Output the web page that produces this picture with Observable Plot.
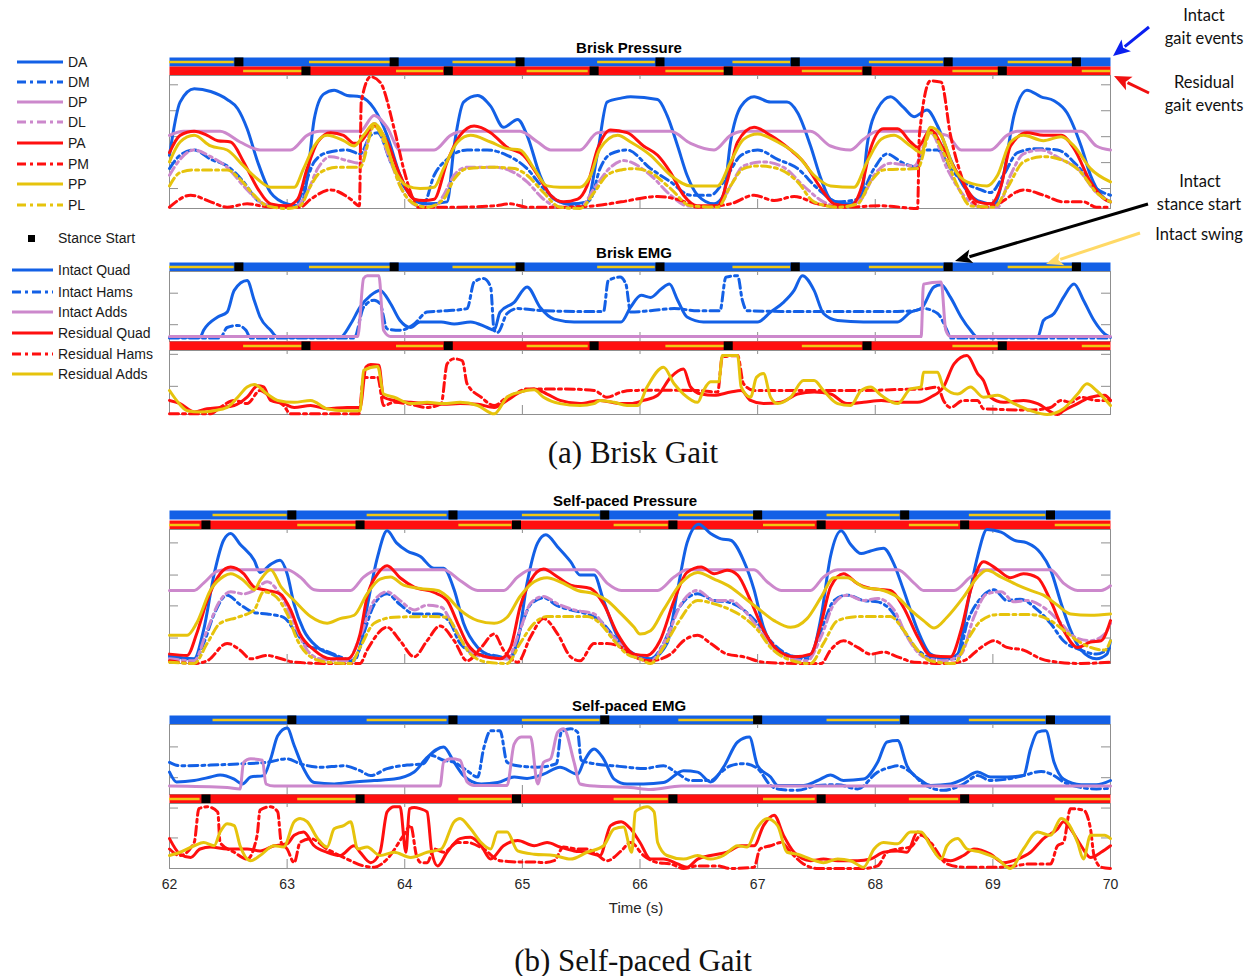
<!DOCTYPE html>
<html><head><meta charset="utf-8">
<script src="https://cdn.jsdelivr.net/npm/d3@7"></script>
<script src="https://cdn.jsdelivr.net/npm/@observablehq/plot@0.6"></script>
<style>
body{margin:0;background:#fff;}
#fig{position:relative;width:1257px;height:976px;overflow:hidden;font-family:"Liberation Sans",Arial,sans-serif;color:#111;}
</style></head><body><div id="fig"></div>
<script>
// ---------------- DATA ----------------
const xTicks = [62,63,64,65,66,67,68,69,70];
const pressureNames = ["DA","DM","DP","DL","PA","PM","PP","PL"];
const intactEmgNames = ["Intact Quad","Intact Hams","Intact Adds"];
const residualEmgNames = ["Residual Quad","Residual Hams","Residual Adds"];

// gait events (s)
const briskIntactStance = [62.59,63.91,64.98,66.17,67.32,68.62,69.71];
const briskIntactSwing = [[62.0,62.55],[63.19,63.88],[64.41,64.95],[65.64,66.13],[66.79,67.28],[67.95,68.58],[69.13,69.68]];
const briskResidualStance = [63.16,64.37,65.61,66.75,67.93,69.08];
const briskResidualSwing = [[62.63,63.13],[63.93,64.33],[65.04,65.56],[66.22,66.73],[67.38,67.89],[68.66,69.05],[69.76,70.0]];
const selfIntactStance = [63.04,64.41,65.70,67.00,68.25,69.49];
const selfIntactSwing = [[62.37,63.00],[63.68,64.36],[65.00,65.66],[66.33,66.97],[67.59,68.21],[68.80,69.45]];
const selfResidualStance = [62.31,63.62,64.95,66.28,67.54,68.76];
const selfResidualSwing = [[62.0,62.26],[63.09,63.59],[64.46,64.91],[65.78,66.24],[67.05,67.49],[68.29,68.71],[69.53,70.0]];

// Brisk pressure (normalised)
const bpDA = [[62.00,.40],[62.09,.80],[62.21,.90],[62.35,.88],[62.49,.82],[62.58,.75],[62.66,.60],[62.75,.35],[62.86,.12],[63.00,.035],[63.11,.02],[63.17,.22],[63.23,.67],[63.31,.86],[63.40,.89],[63.51,.85],[63.62,.84],[63.74,.75],[63.85,.55],[63.96,.25],[64.08,.07],[64.19,.035],[64.36,.05],[64.42,.47],[64.50,.80],[64.62,.85],[64.73,.77],[64.84,.61],[64.96,.67],[65.04,.55],[65.15,.25],[65.27,.07],[65.41,.035],[65.55,.05],[65.64,.42],[65.72,.80],[65.84,.83],[65.92,.84],[66.15,.82],[66.23,.70],[66.32,.47],[66.40,.25],[66.49,.10],[66.63,.035],[66.71,.10],[66.77,.50],[66.86,.77],[66.97,.84],[67.11,.80],[67.25,.80],[67.34,.72],[67.45,.47],[67.54,.22],[67.62,.07],[67.76,.035],[67.88,.07],[67.93,.47],[68.02,.75],[68.13,.84],[68.24,.76],[68.33,.69],[68.44,.74],[68.53,.62],[68.64,.37],[68.75,.17],[68.87,.06],[69.01,.035],[69.09,.25],[69.18,.70],[69.29,.89],[69.41,.84],[69.52,.81],[69.63,.72],[69.75,.47],[69.83,.25],[69.92,.10],[70.00,.05]];
const bpDM = [[62.00,.30],[62.09,.40],[62.21,.44],[62.35,.37],[62.49,.32],[62.63,.20],[62.75,.06],[62.86,.02],[63.06,.01],[63.14,.15],[63.23,.35],[63.34,.42],[63.51,.44],[63.62,.41],[63.71,.55],[63.77,.57],[63.88,.35],[63.99,.17],[64.11,.05],[64.16,.035],[64.25,.25],[64.36,.37],[64.53,.44],[64.70,.44],[64.87,.40],[65.04,.30],[65.18,.15],[65.32,.05],[65.49,.02],[65.58,.07],[65.66,.30],[65.75,.41],[65.89,.44],[66.09,.30],[66.26,.20],[66.43,.10],[66.60,.10],[66.71,.20],[66.86,.40],[67.00,.44],[67.17,.37],[67.34,.30],[67.51,.15],[67.68,.05],[67.85,.07],[67.99,.30],[68.10,.41],[68.24,.34],[68.36,.31],[68.41,.44],[68.53,.44],[68.64,.30],[68.75,.20],[68.87,.15],[68.98,.12],[69.09,.25],[69.21,.42],[69.38,.45],[69.55,.44],[69.72,.32],[69.88,.15],[70.00,.10]];
const bpDP = [[62.00,.55],[62.12,.58],[62.43,.58],[62.60,.50],[62.77,.44],[63.03,.44],[63.17,.55],[63.28,.58],[63.62,.58],[63.74,.70],[63.85,.61],[63.96,.44],[64.25,.44],[64.39,.55],[64.50,.58],[64.98,.58],[65.13,.50],[65.24,.44],[65.49,.44],[65.64,.57],[65.89,.58],[66.26,.58],[66.43,.49],[66.63,.44],[66.77,.55],[66.88,.58],[67.45,.58],[67.62,.47],[67.79,.44],[67.90,.52],[68.02,.58],[68.36,.58],[68.61,.55],[68.73,.44],[68.98,.44],[69.12,.55],[69.21,.58],[69.75,.58],[69.88,.47],[70.00,.44]];
const bpDL = [[62.00,.25],[62.09,.37],[62.21,.44],[62.35,.39],[62.49,.31],[62.63,.17],[62.77,.05],[62.92,.01],[63.06,.01],[63.17,.12],[63.26,.30],[63.37,.39],[63.51,.36],[63.62,.34],[63.74,.64],[63.88,.35],[63.99,.12],[64.11,.02],[64.25,.01],[64.33,.10],[64.42,.25],[64.53,.31],[64.76,.31],[64.93,.27],[65.04,.20],[65.18,.07],[65.32,.01],[65.49,.01],[65.61,.15],[65.75,.31],[65.86,.36],[66.09,.25],[66.26,.10],[66.40,.02],[66.66,.01],[66.77,.17],[66.88,.32],[67.05,.35],[67.22,.31],[67.39,.17],[67.56,.05],[67.73,.01],[67.88,.07],[67.99,.25],[68.13,.34],[68.33,.32],[68.47,.57],[68.61,.30],[68.75,.10],[68.90,.01],[69.04,.01],[69.15,.25],[69.26,.41],[69.41,.44],[69.58,.37],[69.72,.30],[69.88,.12],[70.00,.05]];
const bpPA = [[62.00,.42],[62.09,.55],[62.21,.58],[62.32,.55],[62.41,.51],[62.52,.50],[62.63,.35],[62.75,.15],[62.86,.035],[63.00,.02],[63.09,.07],[63.17,.30],[63.26,.50],[63.37,.57],[63.48,.55],[63.57,.49],[63.62,.50],[63.74,.62],[63.85,.50],[63.96,.25],[64.08,.07],[64.16,.06],[64.25,.07],[64.36,.35],[64.47,.55],[64.59,.62],[64.73,.57],[64.87,.46],[65.01,.40],[65.13,.25],[65.24,.10],[65.35,.05],[65.47,.07],[65.55,.17],[65.64,.45],[65.75,.59],[65.89,.57],[66.03,.47],[66.15,.40],[66.26,.27],[66.37,.10],[66.49,.02],[66.66,.02],[66.74,.20],[66.83,.50],[66.97,.61],[67.11,.55],[67.28,.44],[67.39,.35],[67.54,.15],[67.65,.035],[67.79,.02],[67.88,.15],[67.96,.45],[68.07,.60],[68.19,.60],[68.30,.50],[68.36,.46],[68.47,.59],[68.58,.45],[68.73,.22],[68.87,.05],[68.98,.035],[69.07,.17],[69.15,.47],[69.29,.57],[69.43,.55],[69.58,.55],[69.69,.45],[69.83,.20],[69.95,.07],[70.00,.05]];
const bpPM = [[62.00,.01],[62.18,.10],[62.35,.05],[62.49,.01],[62.66,.035],[62.86,.01],[63.11,.01],[63.20,.07],[63.37,.14],[63.54,.07],[63.615,.02],[63.63,.80],[63.71,.99],[63.79,.95],[63.91,.60],[63.99,.30],[64.05,.12],[64.11,.01],[64.47,.01],[64.76,.02],[64.90,.035],[65.04,.01],[65.32,.01],[65.61,.02],[65.84,.05],[66.15,.09],[66.35,.06],[66.49,.01],[66.77,.035],[66.97,.10],[67.14,.06],[67.31,.09],[67.51,.035],[67.73,.01],[68.05,.02],[68.36,0],[68.375,.55],[68.47,.96],[68.56,.95],[68.64,.55],[68.73,.25],[68.81,.07],[68.92,.01],[69.04,.035],[69.26,.14],[69.43,.10],[69.60,.05],[69.77,.05],[69.88,.01],[70.00,.01]];
const bpPP = [[62.00,.35],[62.09,.50],[62.21,.55],[62.35,.47],[62.49,.44],[62.63,.32],[62.75,.22],[62.86,.16],[63.06,.16],[63.14,.30],[63.23,.47],[63.34,.55],[63.48,.51],[63.57,.47],[63.65,.55],[63.74,.64],[63.82,.55],[63.91,.30],[64.02,.17],[64.13,.15],[64.25,.16],[64.33,.30],[64.45,.50],[64.56,.55],[64.73,.50],[64.87,.45],[64.98,.44],[65.10,.30],[65.21,.17],[65.32,.16],[65.49,.16],[65.58,.25],[65.66,.45],[65.81,.55],[65.92,.50],[66.09,.40],[66.26,.25],[66.43,.17],[66.66,.17],[66.77,.35],[66.88,.52],[67.00,.56],[67.17,.50],[67.34,.40],[67.48,.25],[67.62,.17],[67.82,.16],[67.93,.35],[68.05,.52],[68.16,.55],[68.30,.47],[68.39,.42],[68.47,.61],[68.56,.55],[68.67,.30],[68.78,.20],[68.95,.17],[69.04,.25],[69.15,.50],[69.26,.55],[69.43,.51],[69.58,.54],[69.69,.47],[69.83,.30],[70.00,.20]];
const bpPL = [[62.00,.17],[62.09,.27],[62.21,.29],[62.49,.29],[62.60,.22],[62.72,.10],[62.83,.02],[63.00,0],[63.11,.02],[63.20,.17],[63.28,.27],[63.43,.31],[63.62,.31],[63.74,.62],[63.85,.45],[63.96,.17],[64.08,.035],[64.19,.01],[64.33,.07],[64.42,.22],[64.53,.30],[64.76,.31],[64.93,.30],[65.04,.25],[65.18,.12],[65.32,.01],[65.49,0],[65.61,.12],[65.72,.25],[65.84,.29],[65.95,.30],[66.09,.27],[66.26,.15],[66.43,.02],[66.66,.01],[66.77,.17],[66.88,.30],[67.00,.32],[67.17,.30],[67.34,.20],[67.48,.05],[67.68,.01],[67.85,.035],[67.96,.20],[68.07,.29],[68.36,.30],[68.47,.57],[68.58,.42],[68.70,.17],[68.81,.02],[69.01,.01],[69.12,.15],[69.26,.35],[69.43,.39],[69.60,.36],[69.75,.27],[69.88,.12],[70.00,.05]];

// Brisk EMG (normalised)
const beIQ = [[62.00,.06],[62.26,.06],[62.29,.16],[62.41,.35],[62.49,.42],[62.55,.73],[62.66,.87],[62.72,.59],[62.77,.35],[62.86,.16],[62.92,.06],[63.45,.06],[63.54,.25],[63.62,.49],[63.71,.66],[63.79,.73],[63.88,.54],[63.96,.30],[64.05,.20],[64.13,.28],[64.31,.28],[64.42,.25],[64.56,.28],[64.70,.20],[64.76,.16],[64.81,.42],[64.93,.56],[65.04,.78],[65.15,.49],[65.27,.32],[65.44,.28],[65.61,.28],[65.84,.28],[65.92,.49],[66.01,.66],[66.09,.63],[66.18,.75],[66.25,.82],[66.32,.59],[66.40,.35],[66.54,.28],[66.77,.28],[67.00,.28],[67.11,.42],[67.22,.56],[67.31,.73],[67.38,.94],[67.48,.73],[67.56,.40],[67.68,.30],[67.90,.28],[68.19,.28],[68.30,.42],[68.39,.47],[68.50,.78],[68.56,.81],[68.64,.63],[68.73,.35],[68.81,.16],[68.87,.06],[69.38,.06],[69.43,.30],[69.52,.40],[69.60,.63],[69.69,.82],[69.77,.59],[69.86,.30],[69.95,.11],[70.00,.06]];
const beIH = [[62.00,.05],[62.43,.05],[62.49,.20],[62.58,.23],[62.65,.16],[62.69,.05],[63.57,.05],[63.65,.49],[63.74,.59],[63.79,.54],[63.85,.18],[63.96,.16],[64.08,.25],[64.19,.42],[64.36,.44],[64.53,.47],[64.59,.85],[64.67,.90],[64.73,.78],[64.76,.16],[64.79,.13],[64.87,.40],[64.96,.47],[65.18,.44],[65.47,.43],[65.69,.43],[65.73,.87],[65.83,.92],[65.88,.82],[65.92,.42],[66.09,.44],[66.29,.47],[66.49,.44],[66.68,.44],[66.73,.92],[66.83,.94],[66.87,.59],[66.91,.44],[67.20,.43],[67.62,.43],[67.90,.43],[68.19,.43],[68.33,.44],[68.41,.47],[68.53,.40],[68.61,.16],[68.64,.05],[69.32,.05],[70.00,.05]];
const beIA = [[62.00,.07],[63.60,.07],[63.65,.90],[63.68,.94],[63.78,.94],[63.82,.16],[63.88,.07],[68.39,.07],[68.41,.82],[68.56,.85],[68.60,.16],[68.64,.07],[70.00,.07]];
const beRQ = [[62.00,.22],[62.09,.17],[62.21,.04],[62.32,.09],[62.43,.11],[62.55,.14],[62.66,.27],[62.75,.45],[62.80,.43],[62.86,.22],[62.97,.17],[63.06,.11],[63.20,.14],[63.34,.09],[63.51,.11],[63.62,.11],[63.67,.74],[63.71,.78],[63.78,.77],[63.82,.27],[63.91,.22],[64.05,.19],[64.19,.17],[64.33,.16],[64.47,.17],[64.62,.16],[64.76,.11],[64.87,.22],[64.98,.35],[65.10,.40],[65.21,.32],[65.32,.22],[65.49,.17],[65.66,.22],[65.84,.17],[65.92,.17],[66.03,.22],[66.15,.30],[66.26,.58],[66.37,.71],[66.43,.43],[66.52,.32],[66.63,.30],[66.77,.35],[66.86,.375],[66.94,.22],[67.05,.17],[67.20,.19],[67.34,.32],[67.48,.35],[67.62,.32],[67.76,.17],[67.90,.19],[68.05,.22],[68.19,.19],[68.36,.19],[68.47,.27],[68.58,.43],[68.67,.79],[68.78,.92],[68.87,.64],[68.92,.53],[68.98,.27],[69.09,.19],[69.26,.22],[69.38,.17],[69.55,0],[69.60,.06],[69.72,.17],[69.83,.27],[69.95,.30],[70.00,.22]];
const beRH = [[62.00,.01],[62.35,.01],[62.43,.11],[62.55,.22],[62.66,.17],[62.77,.375],[62.86,.27],[62.97,.14],[63.03,.01],[63.61,.01],[63.65,.58],[63.77,.58],[63.82,.14],[63.91,.19],[64.02,.17],[64.19,.11],[64.31,.17],[64.36,.79],[64.42,.87],[64.49,.84],[64.53,.48],[64.65,.27],[64.76,.14],[64.87,.27],[64.93,.32],[65.04,.40],[65.32,.40],[65.61,.375],[65.72,.27],[65.84,.35],[65.92,.375],[66.20,.38],[66.49,.375],[66.66,.35],[66.70,.90],[66.83,.92],[66.88,.48],[66.97,.375],[67.20,.375],[67.48,.375],[67.90,.375],[68.19,.39],[68.41,.40],[68.53,.43],[68.58,.22],[68.64,.11],[68.75,.22],[68.87,.22],[68.92,.09],[69.32,.07],[69.49,.11],[69.58,.22],[69.66,.19],[69.75,.27],[69.88,.22],[70.00,.22]];
const beRA = [[62.00,.375],[62.06,.22],[62.15,.06],[62.26,.04],[62.38,.06],[62.49,.11],[62.58,.27],[62.66,.43],[62.72,.47],[62.83,.32],[62.92,.22],[63.06,.19],[63.20,.22],[63.34,.09],[63.48,.06],[63.62,.06],[63.65,.69],[63.77,.75],[63.82,.32],[63.91,.27],[64.05,.17],[64.19,.19],[64.33,.17],[64.47,.19],[64.62,.14],[64.76,.01],[64.87,.27],[64.98,.35],[65.10,.385],[65.18,.27],[65.32,.17],[65.49,.14],[65.61,.17],[65.66,.22],[65.78,.19],[65.89,.14],[65.98,.14],[66.06,.43],[66.20,.74],[66.29,.48],[66.37,.32],[66.49,.19],[66.54,.375],[66.60,.51],[66.67,.51],[66.70,.92],[66.83,.92],[66.86,.43],[66.94,.27],[66.99,.58],[67.05,.64],[67.11,.27],[67.17,.17],[67.28,.27],[67.39,.53],[67.48,.53],[67.56,.375],[67.68,.17],[67.79,.14],[67.88,.375],[67.96,.43],[68.05,.30],[68.19,.17],[68.30,.40],[68.39,.43],[68.41,.66],[68.53,.66],[68.58,.43],[68.70,.32],[68.81,.43],[68.92,.27],[69.04,.30],[69.18,.17],[69.32,.06],[69.46,0],[69.60,.09],[69.72,.32],[69.80,.48],[69.88,.375],[70.00,.14]];

// Self-paced pressure (normalised)
const spDA = [[62.00,.06],[62.21,.035],[62.29,.25],[62.38,.67],[62.46,.92],[62.52,.97],[62.60,.89],[62.72,.77],[62.77,.68],[62.86,.74],[62.94,.77],[63.00,.67],[63.06,.44],[63.14,.25],[63.26,.12],[63.40,.06],[63.54,.02],[63.62,.12],[63.68,.42],[63.77,.80],[63.85,.99],[63.93,.90],[64.02,.84],[64.13,.80],[64.25,.71],[64.33,.71],[64.42,.55],[64.50,.30],[64.62,.12],[64.76,.05],[64.87,.035],[64.96,.17],[65.04,.60],[65.13,.90],[65.20,.96],[65.30,.87],[65.41,.76],[65.49,.66],[65.61,.66],[65.69,.47],[65.81,.20],[65.95,.07],[66.09,.035],[66.23,.15],[66.32,.55],[66.40,.90],[66.50,1.04],[66.60,.97],[66.69,.93],[66.77,.92],[66.88,.77],[66.97,.55],[67.05,.27],[67.17,.10],[67.34,.05],[67.45,.06],[67.54,.35],[67.62,.80],[67.71,.99],[67.79,.89],[67.88,.82],[67.96,.84],[68.07,.86],[68.16,.74],[68.24,.55],[68.36,.25],[68.47,.07],[68.61,.035],[68.70,.07],[68.78,.42],[68.87,.80],[68.95,1.0],[69.07,.98],[69.18,.92],[69.29,.90],[69.41,.82],[69.49,.70],[69.58,.45],[69.66,.25],[69.75,.10],[69.88,.035],[69.97,.07],[70.00,.17]];
const spDM = [[62.00,.05],[62.21,.02],[62.29,.15],[62.38,.37],[62.49,.51],[62.60,.44],[62.72,.38],[62.83,.37],[62.97,.345],[63.06,.25],[63.17,.135],[63.31,.10],[63.45,.05],[63.57,.02],[63.65,.22],[63.74,.44],[63.85,.52],[63.96,.44],[64.08,.37],[64.28,.37],[64.39,.30],[64.47,.15],[64.62,.07],[64.76,.06],[64.90,.035],[64.98,.25],[65.07,.44],[65.18,.49],[65.30,.43],[65.41,.40],[65.55,.37],[65.66,.32],[65.78,.20],[65.92,.07],[66.09,.035],[66.20,.15],[66.32,.40],[66.49,.52],[66.63,.47],[66.74,.46],[66.88,.40],[67.00,.30],[67.11,.17],[67.25,.07],[67.42,.035],[67.54,.25],[67.65,.47],[67.76,.51],[67.90,.47],[68.02,.46],[68.13,.40],[68.24,.25],[68.36,.10],[68.53,.035],[68.70,.035],[68.78,.30],[68.90,.49],[69.01,.55],[69.12,.47],[69.23,.48],[69.38,.40],[69.49,.30],[69.60,.17],[69.75,.10],[69.88,.07],[70.00,.12]];
const spDP = [[62.00,.545],[62.21,.545],[62.29,.60],[62.41,.69],[62.49,.70],[63.00,.70],[63.11,.645],[63.23,.55],[63.28,.545],[63.54,.545],[63.65,.645],[63.77,.70],[64.33,.70],[64.47,.62],[64.62,.545],[64.84,.545],[64.96,.645],[65.07,.70],[65.61,.70],[65.72,.60],[65.84,.545],[66.15,.545],[66.29,.645],[66.40,.70],[66.97,.70],[67.08,.61],[67.20,.545],[67.45,.545],[67.56,.645],[67.68,.70],[68.19,.70],[68.33,.60],[68.41,.545],[68.67,.545],[68.81,.645],[68.92,.70],[69.49,.70],[69.60,.60],[69.72,.545],[69.92,.545],[70.00,.58]];
const spDL = [[62.00,.035],[62.21,.02],[62.32,.25],[62.43,.47],[62.52,.535],[62.63,.52],[62.72,.545],[62.83,.61],[62.95,.50],[63.06,.30],[63.17,.10],[63.28,.035],[63.51,.02],[63.62,.20],[63.74,.47],[63.85,.535],[63.96,.47],[64.08,.40],[64.19,.435],[64.31,.42],[64.39,.32],[64.50,.15],[64.62,.06],[64.87,.035],[64.98,.25],[65.07,.45],[65.18,.50],[65.30,.445],[65.44,.40],[65.61,.37],[65.72,.25],[65.89,.10],[66.09,.02],[66.23,.20],[66.35,.445],[66.49,.545],[66.63,.47],[66.77,.47],[66.88,.40],[67.00,.27],[67.14,.10],[67.28,.035],[67.42,.02],[67.54,.20],[67.65,.445],[67.76,.51],[67.90,.47],[68.02,.485],[68.16,.40],[68.27,.20],[68.41,.05],[68.58,.02],[68.73,.07],[68.84,.35],[68.95,.52],[69.07,.535],[69.18,.46],[69.29,.47],[69.43,.42],[69.58,.30],[69.69,.20],[69.83,.17],[69.95,.22],[70.00,.30]];
const spPA = [[62.00,.07],[62.15,.06],[62.23,.22],[62.32,.47],[62.43,.67],[62.52,.72],[62.63,.67],[62.72,.57],[62.83,.545],[62.94,.52],[63.03,.40],[63.11,.22],[63.23,.10],[63.37,.035],[63.51,.035],[63.62,.22],[63.68,.50],[63.77,.67],[63.85,.73],[63.96,.64],[64.08,.57],[64.25,.53],[64.36,.47],[64.45,.30],[64.53,.15],[64.65,.06],[64.81,.035],[64.90,.12],[64.98,.42],[65.07,.62],[65.18,.705],[65.30,.645],[65.41,.585],[65.58,.56],[65.69,.445],[65.81,.22],[65.95,.07],[66.06,.06],[66.17,.17],[66.29,.47],[66.40,.68],[66.52,.72],[66.63,.67],[66.74,.695],[66.83,.66],[66.94,.47],[67.05,.25],[67.17,.10],[67.31,.05],[67.45,.07],[67.54,.30],[67.62,.57],[67.73,.67],[67.85,.595],[67.96,.56],[68.13,.545],[68.24,.42],[68.36,.20],[68.47,.06],[68.64,.05],[68.73,.25],[68.81,.545],[68.92,.76],[69.04,.70],[69.15,.64],[69.26,.67],[69.38,.64],[69.49,.47],[69.60,.25],[69.72,.12],[69.83,.16],[69.92,.17],[70.00,.32]];
const spPM = [[62.00,.02],[62.21,0],[62.32,.02],[62.49,.15],[62.60,.10],[62.69,.035],[62.83,.06],[62.95,.035],[63.06,.01],[63.34,0],[63.62,0],[63.68,.10],[63.85,.27],[63.96,.17],[64.08,.05],[64.19,.17],[64.30,.28],[64.42,.17],[64.53,.02],[64.65,.12],[64.76,.22],[64.84,.10],[64.96,.01],[65.07,.20],[65.18,.335],[65.30,.22],[65.41,.05],[65.49,.02],[65.61,.15],[65.72,.15],[65.84,.12],[65.95,.05],[66.09,.02],[66.26,.07],[66.37,.17],[66.49,.21],[66.60,.15],[66.74,.07],[66.88,.05],[67.05,.01],[67.34,0],[67.54,0],[67.62,.10],[67.73,.17],[67.85,.12],[67.96,.07],[68.07,.085],[68.19,.05],[68.33,.01],[68.61,0],[68.75,.02],[68.90,.12],[69.01,.17],[69.12,.12],[69.26,.10],[69.41,.035],[69.55,.01],[69.75,0],[70.00,.01]];
const spPP = [[62.00,.21],[62.15,.21],[62.23,.30],[62.35,.55],[62.46,.65],[62.52,.67],[62.63,.62],[62.72,.55],[62.77,.62],[62.86,.70],[62.95,.57],[63.06,.47],[63.20,.35],[63.34,.30],[63.45,.335],[63.57,.36],[63.68,.52],[63.79,.63],[63.88,.645],[63.99,.585],[64.13,.56],[64.28,.545],[64.36,.50],[64.47,.40],[64.62,.32],[64.76,.30],[64.87,.345],[64.98,.50],[65.10,.61],[65.21,.64],[65.32,.61],[65.47,.545],[65.61,.52],[65.72,.47],[65.84,.37],[65.95,.27],[66.00,.22],[66.09,.245],[66.20,.40],[66.35,.60],[66.49,.68],[66.63,.63],[66.77,.57],[66.88,.495],[66.99,.42],[67.14,.32],[67.28,.27],[67.42,.335],[67.54,.495],[67.65,.64],[67.76,.64],[67.90,.57],[68.07,.545],[68.19,.495],[68.30,.40],[68.41,.32],[68.50,.265],[68.61,.345],[68.75,.495],[68.87,.645],[68.95,.695],[69.07,.645],[69.21,.585],[69.32,.545],[69.43,.51],[69.55,.435],[69.66,.37],[69.83,.36],[70.00,.37]];
const spPL = [[62.00,.01],[62.21,0],[62.32,.15],[62.43,.30],[62.58,.345],[62.72,.40],[62.80,.535],[62.89,.51],[63.00,.37],[63.09,.17],[63.20,.05],[63.34,.01],[63.54,0],[63.62,.12],[63.74,.30],[63.91,.345],[64.19,.35],[64.36,.345],[64.45,.22],[64.56,.07],[64.70,.01],[64.87,0],[64.98,.15],[65.10,.30],[65.21,.35],[65.55,.35],[65.66,.30],[65.78,.17],[65.89,.07],[66.00,.035],[66.09,0],[66.20,.12],[66.32,.30],[66.49,.47],[66.63,.445],[66.77,.40],[66.88,.345],[67.00,.25],[67.11,.12],[67.25,.035],[67.45,0],[67.56,.15],[67.68,.32],[67.85,.35],[68.13,.35],[68.24,.25],[68.36,.10],[68.47,.02],[68.67,0],[68.78,.17],[68.90,.32],[69.04,.365],[69.32,.365],[69.49,.32],[69.60,.25],[69.72,.17],[69.83,.12],[69.95,.10],[70.00,.17]];

// Self-paced EMG (normalised)
const seIQ = [[62.00,.32],[62.06,.18],[62.21,.20],[62.35,.25],[62.43,.28],[62.55,.22],[62.62,.15],[62.69,.25],[62.80,.27],[62.86,.51],[62.92,.84],[63.00,.95],[63.06,.70],[63.14,.37],[63.23,.17],[63.40,.15],[63.57,.18],[63.74,.20],[63.91,.22],[64.08,.32],[64.19,.53],[64.33,.68],[64.42,.46],[64.50,.27],[64.65,.15],[64.79,.17],[64.93,.25],[65.04,.23],[65.18,.29],[65.32,.39],[65.47,.29],[65.52,.46],[65.61,.65],[65.69,.51],[65.78,.22],[65.89,.15],[66.03,.15],[66.20,.17],[66.37,.34],[66.49,.32],[66.60,.18],[66.71,.39],[66.83,.75],[66.93,.82],[67.00,.41],[67.11,.25],[67.17,.13],[67.39,.13],[67.51,.20],[67.62,.28],[67.73,.20],[67.90,.22],[68.02,.46],[68.10,.75],[68.19,.77],[68.27,.41],[68.39,.20],[68.47,.13],[68.64,.15],[68.75,.22],[68.87,.32],[68.98,.25],[69.12,.25],[69.26,.27],[69.32,.65],[69.38,.89],[69.45,.91],[69.52,.46],[69.60,.22],[69.75,.14],[69.88,.14],[70.00,.20]];
const seIH = [[62.00,.46],[62.09,.41],[62.35,.42],[62.63,.44],[62.83,.46],[63.00,.51],[63.11,.44],[63.28,.39],[63.48,.41],[63.62,.34],[63.71,.27],[63.85,.37],[64.02,.42],[64.16,.44],[64.22,.56],[64.33,.49],[64.42,.46],[64.53,.34],[64.62,.25],[64.67,.65],[64.73,.91],[64.81,.91],[64.87,.46],[64.96,.41],[65.13,.39],[65.29,.44],[65.33,.89],[65.41,.94],[65.47,.89],[65.50,.49],[65.61,.44],[65.78,.41],[65.89,.39],[66.03,.37],[66.20,.41],[66.32,.30],[66.43,.20],[66.60,.20],[66.69,.32],[66.77,.41],[66.88,.44],[67.00,.37],[67.11,.13],[67.20,.07],[67.34,.06],[67.51,.13],[67.68,.14],[67.85,.08],[68.02,.32],[68.13,.39],[68.19,.41],[68.30,.32],[68.41,.15],[68.58,.06],[68.75,.15],[68.87,.27],[68.98,.20],[69.12,.22],[69.26,.27],[69.41,.33],[69.52,.27],[69.60,.18],[69.75,.10],[69.88,.08],[70.00,.09]];
const seIA = [[62.00,.12],[62.49,.10],[62.60,.08],[62.63,.46],[62.69,.51],[62.79,.49],[62.82,.15],[62.89,.12],[64.30,.12],[64.33,.46],[64.39,.51],[64.47,.49],[64.53,.18],[64.59,.13],[64.87,.13],[64.93,.72],[64.99,.82],[65.07,.82],[65.13,.15],[65.18,.46],[65.24,.51],[65.30,.89],[65.35,.94],[65.44,.46],[65.49,.15],[65.61,.12],[65.92,.10],[66.09,.07],[66.35,.12],[70.00,.12]];
const seRQ = [[62.00,.46],[62.09,.22],[62.18,.17],[62.26,.30],[62.35,.33],[62.49,.30],[62.66,.30],[62.77,.27],[62.89,.35],[63.00,.38],[63.06,.51],[63.14,.56],[63.23,.35],[63.34,.25],[63.45,.20],[63.57,.35],[63.62,.25],[63.71,.09],[63.79,.25],[63.85,.87],[63.91,.95],[63.96,.95],[64.01,.25],[64.04,.92],[64.08,.94],[64.13,.92],[64.19,.87],[64.23,.25],[64.28,.04],[64.36,.25],[64.47,.46],[64.56,.48],[64.65,.35],[64.73,.145],[64.84,.35],[64.96,.43],[65.10,.35],[65.21,.40],[65.32,.33],[65.44,.27],[65.55,.25],[65.66,.20],[65.75,.66],[65.84,.72],[65.92,.61],[66.00,.40],[66.09,.145],[66.20,.145],[66.32,.07],[66.40,.02],[66.49,.145],[66.60,.20],[66.74,.25],[66.86,.35],[66.97,.35],[67.05,.66],[67.14,.82],[67.22,.51],[67.31,.25],[67.45,.12],[67.56,.145],[67.68,.12],[67.85,.12],[67.96,.145],[68.07,.25],[68.19,.27],[68.27,.25],[68.36,.56],[68.44,.46],[68.53,.20],[68.64,.12],[68.75,.20],[68.84,.30],[68.98,.22],[69.09,.09],[69.21,.145],[69.32,.25],[69.43,.46],[69.55,.61],[69.60,.72],[69.66,.61],[69.75,.35],[69.83,.17],[69.92,.25],[70.00,.35]];
const seRH = [[62.00,.30],[62.09,.20],[62.21,.40],[62.25,.92],[62.32,.95],[62.41,.87],[62.43,.40],[62.55,.25],[62.66,.145],[62.745,.51],[62.77,.90],[62.86,.95],[62.92,.87],[62.95,.40],[63.00,.30],[63.06,.09],[63.11,.40],[63.20,.46],[63.34,.30],[63.51,.145],[63.65,.04],[63.74,.02],[63.85,.145],[63.99,.51],[64.05,.66],[64.10,.20],[64.14,.09],[64.19,.09],[64.25,.30],[64.33,.25],[64.45,.40],[64.53,.40],[64.67,.30],[64.81,.12],[64.98,.10],[65.10,.10],[65.18,.09],[65.27,.12],[65.35,.33],[65.47,.30],[65.55,.30],[65.61,.25],[65.72,.12],[65.84,.27],[65.92,.40],[66.03,.20],[66.15,.09],[66.26,.07],[66.37,0],[66.49,.04],[66.66,.04],[66.77,0],[66.97,.02],[67.02,.30],[67.11,.35],[67.20,.40],[67.28,.25],[67.39,.07],[67.51,0],[67.90,0],[68.02,.04],[68.10,.25],[68.19,.30],[68.30,.33],[68.39,.51],[68.47,.40],[68.61,.07],[68.75,.02],[69.04,.02],[69.18,.04],[69.32,.07],[69.49,.07],[69.55,.35],[69.60,.40],[69.66,.92],[69.77,.90],[69.83,.61],[69.86,.20],[69.92,.02],[70.00,0]];
const seRA = [[62.00,.20],[62.09,.25],[62.21,.35],[62.29,.40],[62.38,.35],[62.43,.56],[62.49,.69],[62.55,.66],[62.60,.35],[62.69,.12],[62.77,.20],[62.89,.35],[62.97,.33],[63.06,.72],[63.11,.77],[63.17,.72],[63.26,.46],[63.34,.33],[63.40,.61],[63.48,.66],[63.54,.72],[63.60,.30],[63.68,.33],[63.79,.20],[63.91,.25],[64.05,.17],[64.19,.25],[64.31,.30],[64.42,.72],[64.47,.77],[64.56,.61],[64.65,.40],[64.73,.30],[64.79,.56],[64.87,.56],[64.96,.27],[65.10,.22],[65.27,.20],[65.41,.145],[65.55,.25],[65.69,.35],[65.78,.61],[65.86,.64],[65.93,.25],[65.96,.87],[66.00,.92],[66.06,.95],[66.12,.87],[66.15,.40],[66.23,.20],[66.37,.145],[66.49,.20],[66.60,.145],[66.71,.20],[66.83,.35],[66.91,.33],[66.99,.61],[67.08,.77],[67.17,.66],[67.25,.25],[67.34,.22],[67.45,.145],[67.56,.09],[67.68,.145],[67.79,.12],[67.90,.02],[67.99,.30],[68.07,.40],[68.19,.38],[68.30,.56],[68.39,.56],[68.47,.35],[68.56,.145],[68.61,.35],[68.70,.46],[68.78,.30],[68.90,.25],[69.04,.145],[69.15,0],[69.26,.30],[69.38,.56],[69.49,.51],[69.58,.77],[69.63,.72],[69.72,.40],[69.77,.145],[69.83,.51],[69.95,.51],[70.00,.46]];

// ---------------- STYLE ----------------
const BLUE = "#1360e6", RED = "#ff0f0f", PINK = "#cc88cc", YELLOW = "#e6c30c";
const SWING = "#f0c814", AXIS = "#8f8f8f", DD = "9,4,3,4";
const STY = {
  "DA":{c:BLUE}, "DM":{c:BLUE,d:DD}, "DP":{c:PINK}, "DL":{c:PINK,d:DD},
  "PA":{c:RED}, "PM":{c:RED,d:DD}, "PP":{c:YELLOW}, "PL":{c:YELLOW,d:DD},
  "Intact Quad":{c:BLUE}, "Intact Hams":{c:BLUE,d:DD}, "Intact Adds":{c:PINK},
  "Residual Quad":{c:RED}, "Residual Hams":{c:RED,d:DD}, "Residual Adds":{c:YELLOW}
};
const PX_PER_S = 941 / 8;

const fig = document.getElementById("fig");
function put(node, left, top) {
  node.style.position = "absolute"; node.style.left = left + "px"; node.style.top = top + "px";
  fig.appendChild(node);
}
function label(str, cx, cy, css) {
  const d = document.createElement("div");
  d.textContent = str;
  Object.assign(d.style, {position:"absolute", left: cx+"px", top: cy+"px", transform:"translate(-50%,-50%)", whiteSpace:"nowrap", lineHeight:"1"}, css || {});
  fig.appendChild(d);
}

function gaitBar(color, swings, stances, top, h) {
  const svg = Plot.plot({
    width: 943, height: h, marginLeft: 1, marginRight: 1, marginTop: 0, marginBottom: 0,
    x: {domain: [62, 70], axis: null}, y: {domain: [0, 1], axis: null},
    style: {background: "transparent", overflow: "visible"},
    marks: [
      Plot.frame({fill: color, stroke: "none"}),
      Plot.ruleY(swings, {y: () => 0.5, x1: d => d[0], x2: d => d[1], stroke: SWING, strokeWidth: 2.5}),
      Plot.dot(stances, {x: d => d, symbol: "square", r: 5.1, fill: "#000", stroke: "none"})
    ]
  });
  put(svg, 168, top);
}

function panel(names, arrays, top, bottom, yTicks) {
  const h = bottom - top;
  const dx = 9 / PX_PER_S, dyB = 9 / h, dyT = 4 / h;
  const marks = [
    Plot.frame({stroke: AXIS}),
    Plot.ruleX(xTicks, {x: d => d, y1: () => 0, y2: () => dyB, stroke: AXIS}),
    Plot.ruleX(xTicks, {x: d => d, y1: () => 1 - dyT, y2: () => 1, stroke: AXIS}),
    Plot.ruleY(yTicks, {y: d => d, x1: () => 62, x2: () => 62 + dx, stroke: AXIS}),
    Plot.ruleY(yTicks, {y: d => d, x1: () => 70 - dx, x2: () => 70, stroke: AXIS})
  ];
  names.forEach((n, i) => {
    const s = STY[n];
    const data = d3.sort(arrays[i], d => d[0]);
    marks.push(Plot.line(data, {x: d => d[0], y: d => d[1], stroke: s.c, strokeWidth: 3,
      strokeDasharray: s.d, strokeLinejoin: "round", curve: "monotone-x"}));
  });
  const svg = Plot.plot({
    width: 943, height: h + 2, marginLeft: 1, marginRight: 1, marginTop: 1, marginBottom: 1,
    x: {domain: [62, 70], axis: null}, y: {domain: [0, 1], axis: null},
    style: {background: "transparent", overflow: "visible"},
    marks
  });
  put(svg, 168, top - 1);
}

// ---------------- BRISK ----------------
gaitBar(BLUE, briskIntactSwing, briskIntactStance, 57, 9);
gaitBar(RED, briskResidualSwing, briskResidualStance, 66, 9);
panel(pressureNames, [bpDA,bpDM,bpDP,bpDL,bpPA,bpPM,bpPP,bpPL], 75, 208, [.15,.345,.54,.735,.93]);

gaitBar(BLUE, briskIntactSwing, briskIntactStance, 262, 9);
panel(intactEmgNames, [beIQ,beIH,beIA], 271, 341, [.24,.69]);
gaitBar(RED, briskResidualSwing, briskResidualStance, 341, 9);
panel(residualEmgNames, [beRQ,beRH,beRA], 350, 414, [.44,.94]);

// ---------------- SELF-PACED ----------------
gaitBar(BLUE, selfIntactSwing, selfIntactStance, 510, 9);
gaitBar(RED, selfResidualSwing, selfResidualStance, 520, 9);
panel(pressureNames, [spDA,spDM,spDP,spDL,spPA,spPM,spPP,spPL], 529, 663, [.19,.43,.66,.90]);

gaitBar(BLUE, selfIntactSwing, selfIntactStance, 715, 9);
panel(intactEmgNames, [seIQ,seIH,seIA], 724, 794, [.24,.68]);
gaitBar(RED, selfResidualSwing, selfResidualStance, 794, 9);
panel(residualEmgNames, [seRQ,seRH,seRA], 803, 868, [.47,.93]);

// x tick labels
const axisSvg = Plot.plot({
  width: 943, height: 22, marginLeft: 1, marginRight: 1, marginTop: 0, marginBottom: 0,
  x: {domain: [62, 70], axis: null}, y: {domain: [0, 1], axis: null},
  style: {background: "transparent", overflow: "visible", fontFamily: "Liberation Sans, Arial, sans-serif"},
  marks: [Plot.text(xTicks, {x: d => d, frameAnchor: "middle", text: d => String(d), fontSize: 14, fill: "#262626"})]
});
put(axisSvg, 168, 873);
label("Time (s)", 636, 907, {fontSize: "15px", color: "#262626"});

// titles
const T = {fontWeight: "bold", fontSize: "15px", color: "#000"};
label("Brisk Pressure", 629, 47, T);
label("Brisk EMG", 634, 252, T);
label("Self-paced Pressure", 625, 500, T);
label("Self-paced EMG", 629, 705, T);

// captions
const CAP = {fontFamily: "'Liberation Serif','Times New Roman',serif", fontSize: "31px", color: "#111"};
label("(a) Brisk Gait", 633, 452, CAP);
label("(b) Self-paced Gait", 633, 960, CAP);

// legends
function legendRow(name, y, x0, x1, tx) {
  const s = STY[name];
  const w = document.createElement("div");
  w.innerHTML = `<svg width="${x1 + 2}" height="12" style="position:absolute;left:0;top:${y - 6}px;overflow:visible"><line x1="${x0}" x2="${x1}" y1="6" y2="6" stroke="${s.c}" stroke-width="3" ${s.d ? `stroke-dasharray="${s.d}"` : ""}/></svg>`;
  fig.appendChild(w.firstChild);
  const t = document.createElement("div");
  t.textContent = name;
  Object.assign(t.style, {position: "absolute", left: tx + "px", top: (y - 8) + "px", fontSize: "14px", lineHeight: "16px", whiteSpace: "nowrap", color: "#1a1a1a"});
  fig.appendChild(t);
}
const pY = [61.5, 81.5, 102, 122, 143, 163.5, 184, 205];
pressureNames.forEach((n, i) => legendRow(n, pY[i], 17, 63, 68));
{
  const sq = document.createElement("div");
  Object.assign(sq.style, {position: "absolute", left: "28px", top: "235px", width: "7px", height: "7px", background: "#000"});
  fig.appendChild(sq);
  const t = document.createElement("div");
  t.textContent = "Stance Start";
  Object.assign(t.style, {position: "absolute", left: "58px", top: "230px", fontSize: "14px", lineHeight: "16px", color: "#1a1a1a"});
  fig.appendChild(t);
}
const eY = [270, 291.5, 312, 333, 354, 374];
intactEmgNames.concat(residualEmgNames).forEach((n, i) => legendRow(n, eY[i], 12, 53, 58));

// right annotations
const AN = {fontFamily: "Lato, 'Open Sans', sans-serif", fontSize: "16.5px", color: "#111"};
label("Intact", 1204, 15, AN);
label("gait events", 1204, 38, AN);
label("Residual", 1204, 82, AN);
label("gait events", 1204, 105, AN);
label("Intact", 1200, 181, AN);
label("stance start", 1199, 204, AN);
label("Intact swing", 1199, 234, AN);

function arrowSvg(x1, y1, x2, y2, color, w, hl, hw) {
  const dx = x2 - x1, dy = y2 - y1, L = Math.hypot(dx, dy), ux = dx / L, uy = dy / L;
  const bx = x2 - ux * hl, by = y2 - uy * hl, px = -uy, py = ux;
  return `<line x1="${x1}" y1="${y1}" x2="${bx + ux * 2}" y2="${by + uy * 2}" stroke="${color}" stroke-width="${w}"/>` +
    `<polygon points="${x2},${y2} ${bx + px * hw / 2},${by + py * hw / 2} ${bx + ux * 4},${by + uy * 4} ${bx - px * hw / 2},${by - py * hw / 2}" fill="${color}"/>`;
}
{
  const w = document.createElement("div");
  w.innerHTML = `<svg width="1257" height="976" style="position:absolute;left:0;top:0;pointer-events:none">` +
    arrowSvg(1149, 27, 1113, 56, "#0a1ff0", 3, 17, 15) +
    arrowSvg(1149, 93, 1114, 76, "#f01010", 3, 17, 15) +
    arrowSvg(1148, 204, 955, 261, "#000", 3, 17, 14) +
    arrowSvg(1140, 233, 1046, 264, "#ffd966", 3, 17, 14) +
    `</svg>`;
  fig.appendChild(w.firstChild);
}
</script></body></html>
